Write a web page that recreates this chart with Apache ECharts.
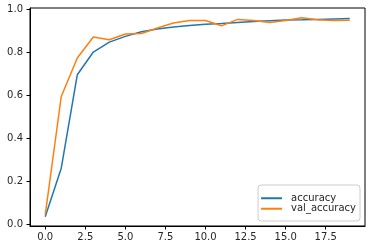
<!DOCTYPE html>
<html>
<head>
<meta charset="utf-8">
<script src="https://cdn.jsdelivr.net/npm/echarts@6/dist/echarts.min.js"></script>
<style>html,body{margin:0;padding:0;background:#fff}#c{width:372px;height:250px}</style>
</head>
<body>
<div id="c"></div>
<script>
var epochs = [0,1,2,3,4,5,6,7,8,9,10,11,12,13,14,15,16,17,18,19];
var accuracy = [0.036,0.262,0.697,0.803,0.849,0.876,0.897,0.910,0.919,0.927,0.932,0.936,0.941,0.945,0.949,0.952,0.953,0.955,0.957,0.959];
var valAccuracy = [0.045,0.596,0.775,0.873,0.860,0.887,0.889,0.915,0.938,0.950,0.950,0.925,0.955,0.950,0.941,0.950,0.963,0.953,0.950,0.951];
var xTicks = [0,2.5,5,7.5,10,12.5,15,17.5];
var yTicks = [0,0.2,0.4,0.6,0.8,1.0];
var seriesNames = ['accuracy','val_accuracy'];
var colors = ['#1f77b4','#ff7f0e'];

function pairs(vals){ return epochs.map(function(e,i){ return [e, vals[i]]; }); }
var font = 'DejaVu Sans';
var chart = echarts.init(document.getElementById('c'));
chart.setOption({
  animation: false,
  grid: {left: 30, right: 7, top: 8, bottom: 24, show: true, borderColor: '#000', borderWidth: 1, backgroundColor: 'transparent'},
  xAxis: {
    type: 'value', min: -0.95, max: 19.95,
    splitLine: {show: false},
    axisLine: {show: true, onZero: false, lineStyle: {color: '#000', width: 1}},
    axisTick: {show: true, length: 3.5, lineStyle: {color: '#000'}, customValues: xTicks},
    axisLabel: {customValues: xTicks, margin: 6, color: '#262626', fontFamily: font, fontSize: 10,
      formatter: function(v){ return Number(v).toFixed(1); }}
  },
  yAxis: {
    type: 'value', min: -0.007, max: 1.008,
    splitLine: {show: false},
    axisLine: {show: true, onZero: false, lineStyle: {color: '#000', width: 1}},
    axisTick: {show: true, length: 3.5, lineStyle: {color: '#000'}, customValues: yTicks},
    axisLabel: {customValues: yTicks, margin: 7, color: '#262626', fontFamily: font, fontSize: 10,
      formatter: function(v){ return Number(v).toFixed(1); }}
  },
  legend: {
    orient: 'vertical', right: 12, bottom: 29,
    data: seriesNames,
    icon: 'rect', itemWidth: 21, itemHeight: 2, itemGap: 0,
    borderColor: '#ccc', borderWidth: 1, borderRadius: 3,
    padding: [8, 4, 7, 3],
    backgroundColor: 'rgba(255,255,255,0.8)',
    textStyle: {fontFamily: font, fontSize: 10, color: '#262626', lineHeight: 10.5, padding: [0,0,0,4]}
  },
  series: [
    {name: seriesNames[0], type: 'line', data: pairs(accuracy), showSymbol: false, symbol: 'none',
      lineStyle: {color: colors[0], width: 1.5}, itemStyle: {color: colors[0]}},
    {name: seriesNames[1], type: 'line', data: pairs(valAccuracy), showSymbol: false, symbol: 'none',
      lineStyle: {color: colors[1], width: 1.5}, itemStyle: {color: colors[1]}}
  ]
});
</script>
</body>
</html>
